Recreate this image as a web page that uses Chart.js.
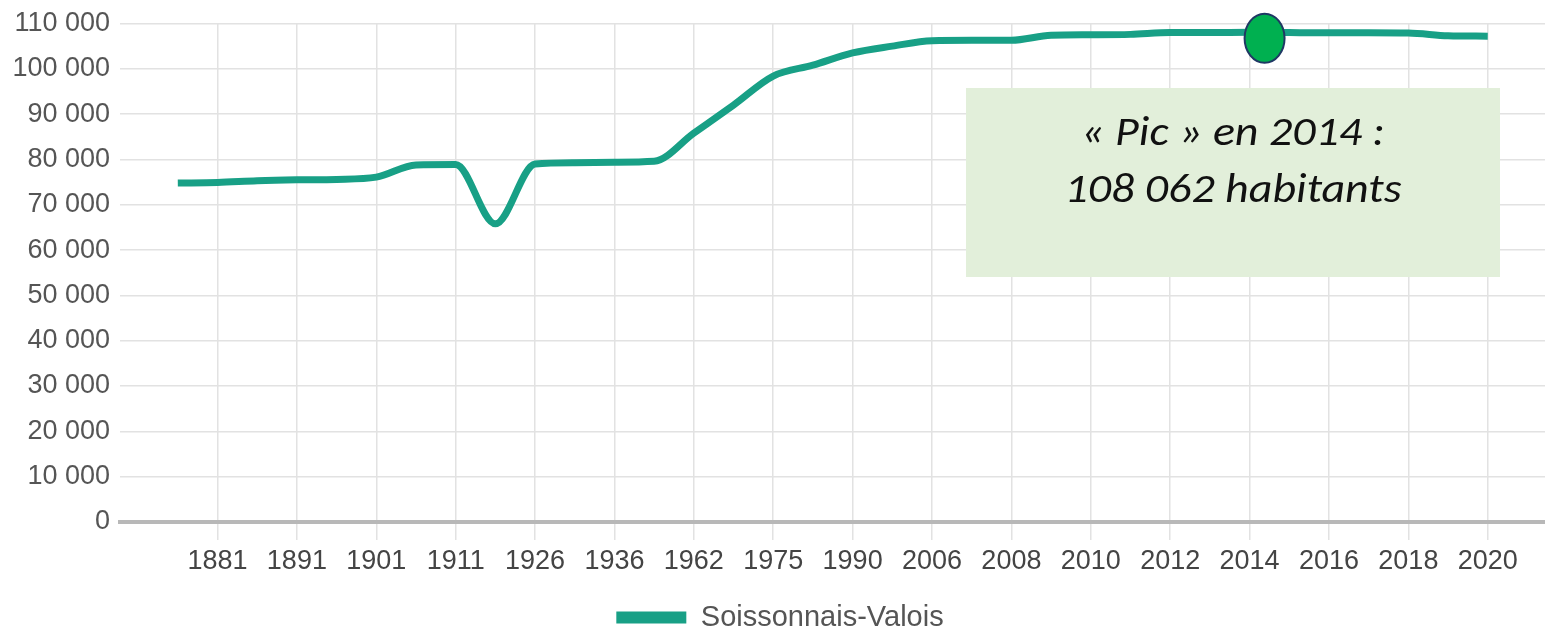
<!DOCTYPE html>
<html>
<head>
<meta charset="utf-8">
<script src="https://cdn.jsdelivr.net/npm/chart.js@4.4.1/dist/chart.umd.min.js"></script>
<style>
  html, body { margin: 0; padding: 0; background: #ffffff; overflow: hidden; }
  #wrap { width: 1545px; height: 637px; overflow: hidden; position: relative; }
  canvas { display: block; }
</style>
</head>
<body>
<div id="wrap"><canvas id="c" width="1568" height="637"></canvas></div>
<script>
// ---- data ----
const years = [1876, 1881, 1886, 1891, 1896, 1901, 1906, 1911, 1921, 1926, 1931, 1936, 1954,
               1962, 1968, 1975, 1982, 1990, 1999, 2006, 2007, 2008, 2009, 2010, 2011, 2012,
               2013, 2014, 2015, 2016, 2017, 2018, 2019, 2020];
const population = [74800, 74900, 75300, 75500, 75600, 76100, 78800, 78900, 65800, 79000,
                    79300, 79400, 79600, 85800, 92000, 98400, 100800, 103500, 105000, 106200,
                    106300, 106300, 107400, 107500, 107600, 108000, 108000, 108062, 108000,
                    107950, 107950, 107900, 107300, 107200];
const seriesName = 'Soissonnais-Valois';
const peakYear = 2014;
const peakValue = 108062;
const calloutLines = ['« Pic » en 2014 :', '108 062 habitants'];
const yTicks = [0, 10000, 20000, 30000, 40000, 50000, 60000, 70000, 80000, 90000, 100000, 110000];

const fmt = v => String(v).replace(/\B(?=(\d{3})+(?!\d))/g, ' ');
const axisFont = { family: "'Liberation Sans', Arial, sans-serif", size: 27 };
const yFont = { family: "'Liberation Sans', Arial, sans-serif", size: 27, lineHeight: 1 };
const legendFont = { family: "'Liberation Sans', Arial, sans-serif", size: 29 };
const teal = '#18a086';

const annot = {
  id: 'annot',
  afterDatasetsDraw(chart) {
    const { ctx, scales: { x, y } } = chart;
    // callout box
    ctx.save();
    ctx.fillStyle = '#e2efda';
    ctx.fillRect(966, 88, 534, 189);
    ctx.fillStyle = '#111111';
    ctx.textAlign = 'center';
    ctx.textBaseline = 'alphabetic';
    ctx.font = "italic 40px 'Carlito', 'Lato', 'Open Sans', sans-serif";
    const cx0 = 1233;
    [[calloutLines[0], 145], [calloutLines[1], 202]].forEach(([t, by]) => {
      ctx.save();
      ctx.translate(cx0, by);
      ctx.scale(1.15, 1);
      ctx.fillText(t, 0, 0);
      ctx.restore();
    });
    ctx.restore();
    // peak marker
    const i = years.indexOf(peakYear);
    const px = x.getPixelForValue(i) + 15;
    const py = y.getPixelForValue(peakValue) + 6;
    ctx.save();
    ctx.beginPath();
    ctx.ellipse(px, py, 20, 24.5, 0, 0, Math.PI * 2);
    ctx.fillStyle = '#00b050';
    ctx.fill();
    ctx.lineWidth = 2;
    ctx.strokeStyle = '#1f3864';
    ctx.stroke();
    ctx.restore();
  }
};

new Chart(document.getElementById('c'), {
  type: 'line',
  data: {
    datasets: [{
      label: seriesName,
      data: population.map((v, i) => ({ x: i, y: v })),
      borderColor: teal,
      backgroundColor: teal,
      borderWidth: 7,
      cubicInterpolationMode: 'monotone',
      pointRadius: 0,
      fill: false
    }]
  },
  options: {
    responsive: false,
    animation: false,
    devicePixelRatio: 1,
    layout: { padding: { top: 0, right: 8, left: 0, bottom: -5 } },
    plugins: {
      legend: {
        position: 'bottom',
        labels: {
          boxWidth: 70,
          boxHeight: 12,
          padding: 2,
          color: '#555555',
          font: legendFont,
          generateLabels: (chart) => Chart.defaults.plugins.legend.labels.generateLabels(chart).map(l => ({ ...l, lineWidth: 0 }))
        }
      },
      tooltip: { enabled: false }
    },
    scales: {
      x: {
        type: 'linear',
        min: -1.456,
        max: 34.82,
        afterBuildTicks: s => { s.ticks = years.map((yr, i) => ({ value: i })).filter(t => t.value % 2 === 1); },
        afterFit: s => { s.height = 79; },
        ticks: { autoSkip: false, maxRotation: 0, padding: 5, color: '#444444', font: axisFont, callback: v => years[v] },
        grid: { color: '#e2e2e2', lineWidth: 1.5, tickLength: 18 },
        border: { color: '#b8b8b8', width: 4 }
      },
      y: {
        min: 0,
        max: 110000,
        afterBuildTicks: s => { s.ticks = yTicks.map(v => ({ value: v })); },
        afterFit: s => { s.width = 120; },
        ticks: { padding: 10, color: '#555555', font: yFont, callback: v => fmt(v) },
        grid: { color: '#e2e2e2', lineWidth: 1.5, drawTicks: false },
        border: { display: false }
      }
    }
  },
  plugins: [annot]
});
</script>
</body>
</html>
